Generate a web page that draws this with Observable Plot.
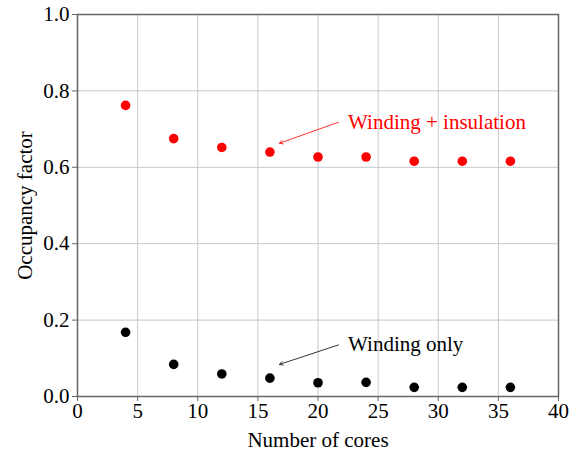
<!DOCTYPE html>
<html><head><meta charset="utf-8">
<script src="https://cdn.jsdelivr.net/npm/d3@7"></script>
<script src="https://cdn.jsdelivr.net/npm/@observablehq/plot@0.6"></script>
<style>body{margin:0;background:#fff}</style>
</head><body><div id="chart"></div>
<script>
const cores = [4, 8, 12, 16, 20, 24, 28, 32, 36];
const windingInsulation = [0.762, 0.675, 0.652, 0.640, 0.627, 0.627, 0.616, 0.616, 0.616];
const windingOnly = [0.168, 0.084, 0.059, 0.048, 0.036, 0.037, 0.024, 0.024, 0.024];
const xTicks = [0, 5, 10, 15, 20, 25, 30, 35, 40];
const yTicks = [0, 0.2, 0.4, 0.6, 0.8, 1.0];
const labels = ["Winding + insulation", "Winding only"];
const labelColors = ["#ff0000", "#000000"];
const labelX = [22.5, 22.5];
const labelY = [0.718, 0.137];
const arrowX1 = [21.7, 21.7];
const arrowY1 = [0.718, 0.135];
const arrowX2 = [16.8, 16.8];
const arrowY2 = [0.663, 0.084];

const red = cores.map((c, i) => ({x: c, y: windingInsulation[i]}));
const blk = cores.map((c, i) => ({x: c, y: windingOnly[i]}));
const ann = labels.map((t, i) => ({t, c: labelColors[i], x: labelX[i], y: labelY[i], x1: arrowX1[i], y1: arrowY1[i], x2: arrowX2[i], y2: arrowY2[i]}));

const FF = "Liberation Serif";
const chart = Plot.plot({
  width: 588, height: 450,
  marginLeft: 77, marginTop: 14, marginRight: 30, marginBottom: 54,
  style: {background: "#fff", color: "#000"},
  x: {domain: [0, 40], ticks: xTicks},
  y: {domain: [0, 1], ticks: yTicks},
  marks: [
    Plot.gridX(xTicks, {stroke: "#c8c8c8", strokeOpacity: 1, strokeWidth: 1}),
    Plot.gridY(yTicks, {stroke: "#c8c8c8", strokeOpacity: 1, strokeWidth: 1}),
    Plot.frame({stroke: "#666", strokeWidth: 1.5}),
    Plot.axisX({ticks: xTicks, tickSize: 5, stroke: "#666", tickPadding: 2, fontSize: 21, fontFamily: FF, fill: "#000",
      label: "Number of cores", labelAnchor: "center", labelOffset: 50, labelArrow: "none"}),
    Plot.axisY({ticks: yTicks, tickSize: 5, stroke: "#666", tickPadding: 3, fontSize: 21, fontFamily: FF, fill: "#000",
      tickFormat: d3.format(".1f"), label: "Occupancy factor", labelAnchor: "center", labelOffset: 60, labelArrow: "none"}),
    Plot.dot(red, {x: "x", y: "y", r: 4.8, fill: "#ff0000", stroke: "none"}),
    Plot.dot(blk, {x: "x", y: "y", r: 4.8, fill: "#000", stroke: "none"}),
    Plot.arrow(ann, {x1: "x1", y1: "y1", x2: "x2", y2: "y2", stroke: d => d.c, strokeWidth: 0.8, headLength: 7, bend: false}),
    Plot.text(ann, {x: "x", y: "y", text: "t", fill: "c", textAnchor: "start", fontSize: 21, fontFamily: FF})
  ]
});
const st = document.createElementNS("http://www.w3.org/2000/svg", "style");
st.textContent = "text, tspan { font-family: 'Liberation Serif', serif !important; }";
chart.insertBefore(st, chart.firstChild);
document.getElementById("chart").appendChild(chart);
function fixFonts() {
  chart.querySelectorAll("text").forEach(el => {
    el.style.setProperty("font-family", "'Liberation Serif', serif", "important");
    el.style.setProperty("font-size", "21px", "important");
  });
}
fixFonts();
requestAnimationFrame(fixFonts);
setTimeout(fixFonts, 0);
</script></body></html>
